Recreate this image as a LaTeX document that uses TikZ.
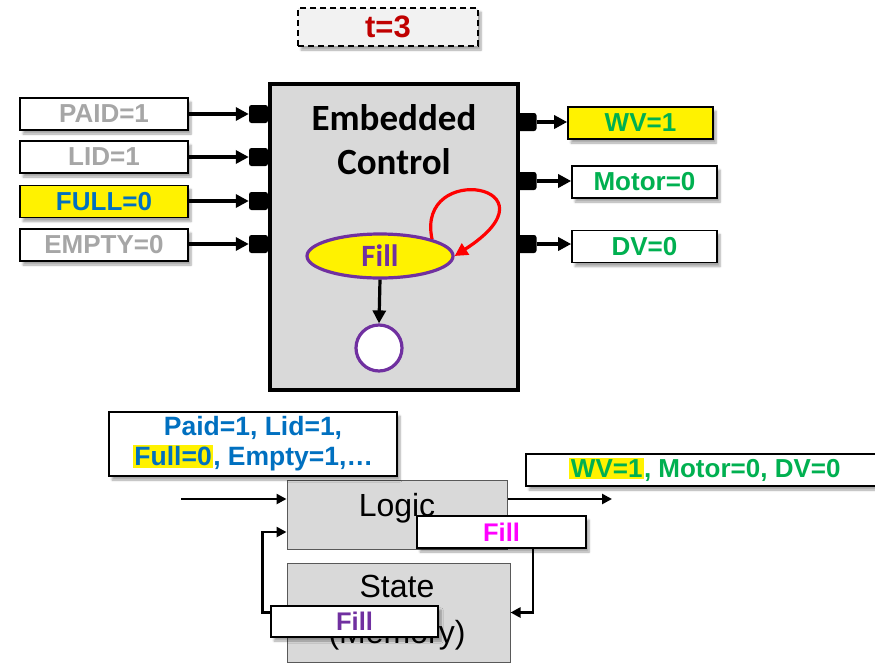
\documentclass[tikz,border=0pt]{standalone}
\usepackage{fontspec}
\setmainfont{Liberation Sans}
\newfontfamily\carlito{Carlito}
\usetikzlibrary{arrows.meta,shapes.geometric,shadows.blur,calc}

\definecolor{boxgray}{HTML}{D9D9D9}
\definecolor{tgray}{HTML}{F2F2F2}
\definecolor{txtgray}{HTML}{A6A6A6}
\definecolor{sigblue}{HTML}{0070C0}
\definecolor{siggreen}{HTML}{00B050}
\definecolor{purp}{HTML}{7030A0}
\definecolor{magen}{HTML}{FF00FF}
\definecolor{darkred}{HTML}{C00000}
\definecolor{edgegray}{HTML}{595959}

\newcommand\hilite[1]{{\setlength\fboxsep{1.5pt}\colorbox{yellow}{#1}}}

\begin{document}
\begin{tikzpicture}[x=1pt,y=-1pt,
  shad/.style={blur shadow={shadow xshift=3pt,shadow yshift=-4pt,shadow blur steps=6,shadow opacity=35}},
  lbl/.style={draw=black,line width=1.6pt,fill=white,minimum width=168pt,minimum height=32pt,
    inner sep=0pt,font=\bfseries\fontsize{26}{28}\selectfont,shad},
  port/.style={fill=black,rounded corners=2.5pt,minimum width=19pt,minimum height=18pt,inner sep=0pt},
  sig/.style={line width=3.4pt,-{Triangle[length=13pt,width=13pt]}},
  flow/.style={line width=2.8pt,-{Triangle[length=10pt,width=10pt]}},
  blk/.style={draw=edgegray,line width=1pt,fill=boxgray,inner sep=0pt},
  blktxt/.style={anchor=base,font=\fontsize{32}{32}\selectfont},
  fillbox/.style={draw=black,line width=1.6pt,fill=white,inner sep=0pt,minimum height=32pt,
    font=\bfseries\fontsize{25.5}{28}\selectfont,shad}]

\useasboundingbox (0,0) rectangle (875,662);

% time stamp
\node[draw=black,dashed,dash pattern=on 6pt off 4pt,line width=1.6pt,fill=tgray,
  minimum width=180pt,minimum height=38pt,inner sep=0pt,shad,text=darkred,
  font=\bfseries\fontsize{31}{32}\selectfont] (time) at (388,27) {t=3};

% controller block
\node[draw=black,line width=4pt,fill=boxgray,minimum width=248pt,minimum height=306pt,inner sep=0pt]
  (ctrl) at (394,237) {};
\node[align=center,font=\carlito\bfseries\fontsize{37}{44}\selectfont] (title) at (394,140)
  {Embedded\\Control};

% input ports and signals
\node[port] (p1) at (258.5,114) {};
\node[port] (p2) at (258.5,157) {};
\node[port] (p3) at (258.5,201) {};
\node[port] (p4) at (258.5,244) {};
\node[lbl,text=txtgray] (paid) at (104,114) {PAID=1};
\node[lbl,text=txtgray] (lid) at (104,157) {LID=1};
\node[lbl,fill=yellow,text=sigblue] (full) at (104,201.5) {FULL=0};
\node[lbl,text=txtgray] (empty) at (104,245) {EMPTY=0};
\draw[sig] (paid.east |- p1) -- (p1.west);
\draw[sig] (lid.east |- p2) -- (p2.west);
\draw[sig] (full.east |- p3) -- (p3.west);
\draw[sig] (empty.east |- p4) -- (p4.west);

% output ports and signals
\node[port] (q1) at (527,122) {};
\node[port] (q2) at (527,181) {};
\node[port] (q3) at (527,244) {};
\node[lbl,minimum width=145pt,fill=yellow,text=siggreen] (wv) at (640.5,123) {WV=1};
\node[lbl,minimum width=145pt,text=siggreen] (motor) at (644.5,182) {Motor=0};
\node[lbl,minimum width=145pt,text=siggreen] (dv) at (644.5,246.5) {DV=0};
\draw[sig] (q1.east) -- (wv.west |- q1);
\draw[sig] (q2.east) -- (motor.west |- q2);
\draw[sig] (q3.east) -- (dv.west |- q3);

% state machine
\node[ellipse,draw=purp,line width=3.2pt,fill=yellow,minimum width=146pt,minimum height=44pt,
  inner sep=0pt,text=purp,font=\carlito\bfseries\fontsize{31}{32}\selectfont] (fillst) at (380,256) {Fill};
\node[circle,draw=purp,line width=3.2pt,fill=white,minimum size=46pt,inner sep=0pt] (endst) at (379,348) {};
\draw[red,line width=3.2pt,-{Triangle[length=13pt,width=13pt]}]
  (fillst.18) .. controls (415,160) and (565,185) .. (fillst.east);
\draw[line width=3.2pt,-{Triangle[length=13pt,width=13pt]}] (fillst.south) -- (endst.north);

% logic / state view
\node[blk,minimum width=220pt,minimum height=69pt] (logic) at (397,514.5) {};
\node[blktxt] (logictxt) at (397,516) {Logic};
\node[blk,minimum width=223pt,minimum height=99pt] (st) at (398.5,612.5) {};
\node[blktxt] (sttxt) at (397,597) {State};
\node[blktxt] (memtxt) at (397,643) {(Memory)};

\node[draw=black,line width=1.6pt,fill=white,minimum width=288pt,minimum height=64pt,inner sep=0pt,
  align=center,text=sigblue,font=\bfseries\fontsize{26.5}{30}\selectfont,shad] (inputs) at (253,444)
  {Paid=1, Lid=1,\\\hilite{Full=0}, Empty=1,…};
\node[draw=black,line width=1.6pt,fill=white,minimum width=358pt,minimum height=32pt,inner sep=0pt,
  text=siggreen,font=\bfseries\fontsize{26}{28}\selectfont,shad] (outs) at (705,470)
  {\hilite{WV=1}, Motor=0, DV=0};

\node[fillbox,minimum width=169pt,text=magen] (fillA) at (501.5,532) {Fill};
\node[fillbox,minimum width=167pt,minimum height=31pt,text=purp] (fillB) at (354.5,621.5) {Fill};

\coordinate (inL) at (181,499);
\coordinate (outR) at (612,499);
\draw[flow] (inL) -- (inL -| logic.west);
\draw[flow] (outR -| logic.east) -- (outR);
\draw[flow] (fillB.west |- st.center) -- ++(-8,0) |- (logic.west |- fillA.center);
\draw[flow] ([xshift=31.5pt]fillA.south) |- (st.east);

\end{tikzpicture}
\end{document}
